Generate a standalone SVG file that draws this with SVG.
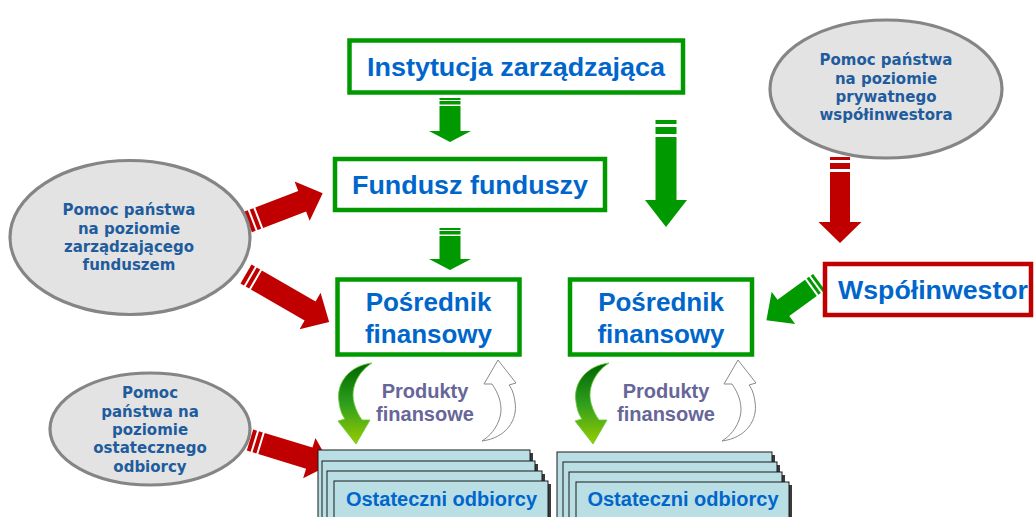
<svg xmlns="http://www.w3.org/2000/svg" width="1035" height="517" viewBox="0 0 1035 517">
<defs>
<style>
.box{fill:#fff;stroke:#009900;stroke-width:4.5}
.rbox{fill:#fff;stroke:#C00000;stroke-width:4.5}
.bt{font-family:"Liberation Sans",Arial,sans-serif;font-weight:bold;fill:#0066CC;text-anchor:middle}
.el{fill:#E3E3E3;stroke:#858585;stroke-width:3.2}
.et{font-family:"DejaVu Sans",Verdana,sans-serif;font-weight:bold;font-size:15px;fill:#1F5C9E;text-anchor:middle}
.pt{font-family:"Liberation Sans",Arial,sans-serif;font-weight:bold;font-size:20px;fill:#666699;text-anchor:middle}
.g{fill:#009900}
.r{fill:#C00000}
.card{fill:#B9DFE5;stroke:#1a1a1a;stroke-width:1}
.sh{fill:#3a3a3a}
.out{fill:#fff;stroke:#8A8A8A;stroke-width:1}
</style>
<linearGradient id="gg" x1="0" y1="0" x2="0" y2="1">
<stop offset="0" stop-color="#006600"/>
<stop offset="0.5" stop-color="#2E9E1E"/>
<stop offset="1" stop-color="#99CC00"/>
</linearGradient>
<path id="curv" d="M372,363 C348,366 336,384 339,402 C340,410 342,415 345,419 L338,421 L356,444 L370,420 L362,420 C355,410 351,398 354,387 C357,376 364,368 372,363 Z"/>
</defs>

<g id="connectors">
<g class="g" transform="translate(450,98) rotate(90)">
<rect x="0" y="-10.5" width="2" height="21"/><rect x="3" y="-10.5" width="3.5" height="21"/>
<path d="M8,-10.5H33V-21L44,0L33,21V10.5H8Z"/>
</g>
<g class="g" transform="translate(450,228) rotate(90)">
<rect x="0" y="-10.5" width="2" height="21"/><rect x="3" y="-10.5" width="3.5" height="21"/>
<path d="M8,-10.5H31V-21L42,0L31,21V10.5H8Z"/>
</g>
<g class="g" transform="translate(666,120) rotate(90)">
<rect x="0" y="-10.5" width="4" height="21"/><rect x="7" y="-10.5" width="7" height="21"/>
<path d="M17,-10.5H80V-21L107,0L80,21V10.5H17Z"/>
</g>
<g class="r" transform="translate(840,157) rotate(90)">
<rect x="0" y="-10" width="3" height="20"/><rect x="6" y="-10" width="6" height="20"/>
<path d="M15,-10H65V-21.5L86,0L65,21.5V10H15Z"/>
</g>
<g class="g" transform="translate(819,282) rotate(144)">
<rect x="0" y="-10" width="3" height="20"/><rect x="5" y="-10" width="3" height="20"/>
<path d="M10,-10H44V-20L65,0L44,20V10H10Z"/>
</g>
<g class="r" transform="translate(248,222) rotate(-21)">
<rect x="0" y="-11" width="4" height="22"/><rect x="6" y="-11" width="4" height="22"/>
<path d="M12,-11H58V-21L80,0L58,21V11H12Z"/>
</g>
<g class="r" transform="translate(246,274) rotate(30)">
<rect x="0" y="-11" width="4" height="22"/><rect x="6" y="-11" width="4" height="22"/>
<path d="M12,-11H74V-21L96,0L74,21V11H12Z"/>
</g>
<g class="r" transform="translate(250,440) rotate(17)">
<rect x="0" y="-11" width="4" height="22"/><rect x="6" y="-11" width="4" height="22"/>
<path d="M12,-11H62V-21L84,0L62,21V11H12Z"/>
</g>
<use href="#curv" fill="url(#gg)" stroke="#66CC33" stroke-width="0.8"/>
<use href="#curv" class="out" transform="rotate(180 427 402)"/>
<use href="#curv" fill="url(#gg)" stroke="#66CC33" stroke-width="0.8" transform="translate(237,0)"/>
<use href="#curv" class="out" transform="translate(240,0) rotate(180 427 402)"/>
</g>

<g id="instytucja">
<rect class="box" x="349.5" y="40.5" width="333.5" height="52"/>
<text class="bt" x="516" y="76" font-size="26" textLength="298" lengthAdjust="spacingAndGlyphs">Instytucja zarządzająca</text>
</g>
<g id="fundusz">
<rect class="box" x="335" y="159" width="270" height="51"/>
<text class="bt" x="470" y="194" font-size="26" textLength="236" lengthAdjust="spacingAndGlyphs">Fundusz funduszy</text>
</g>
<g id="posrednik1">
<rect class="box" x="337.5" y="279.5" width="182" height="75"/>
<text class="bt" x="428.5" y="311" font-size="26">Pośrednik</text>
<text class="bt" x="428.5" y="343" font-size="26">finansowy</text>
</g>
<g id="posrednik2">
<rect class="box" x="570" y="279.5" width="182" height="75"/>
<text class="bt" x="661" y="311" font-size="26">Pośrednik</text>
<text class="bt" x="661" y="343" font-size="26">finansowy</text>
</g>
<g id="wspolinwestor">
<rect class="rbox" x="825" y="264" width="206" height="51"/>
<text class="bt" x="933" y="299" font-size="26" textLength="190" lengthAdjust="spacingAndGlyphs">Współinwestor</text>
</g>

<g id="pomoc-zarzadzajacy">
<ellipse class="el" cx="130" cy="237.5" rx="120" ry="77"/>
<text class="et" x="129" y="215">Pomoc państwa</text>
<text class="et" x="129" y="233.5">na poziomie</text>
<text class="et" x="129" y="252">zarządzającego</text>
<text class="et" x="129" y="270">funduszem</text>
</g>
<g id="pomoc-wspolinwestor">
<ellipse class="el" cx="886" cy="89" rx="116" ry="69"/>
<text class="et" x="886" y="65">Pomoc państwa</text>
<text class="et" x="886" y="83.5">na poziomie</text>
<text class="et" x="886" y="102">prywatnego</text>
<text class="et" x="886" y="120">współinwestora</text>
</g>
<g id="pomoc-odbiorca">
<ellipse class="el" cx="150" cy="429" rx="100" ry="56"/>
<text class="et" x="150" y="398">Pomoc</text>
<text class="et" x="150" y="416.5">państwa na</text>
<text class="et" x="150" y="435">poziomie</text>
<text class="et" x="150" y="453">ostatecznego</text>
<text class="et" x="150" y="471.5">odbiorcy</text>
</g>

<g id="produkty1">
<text class="pt" x="425" y="398">Produkty</text>
<text class="pt" x="425" y="421">finansowe</text>
</g>
<g id="produkty2">
<text class="pt" x="666" y="398">Produkty</text>
<text class="pt" x="666" y="421">finansowe</text>
</g>

<g id="odbiorcy1">
<rect class="sh" x="321" y="453" width="212" height="80"/>
<rect class="card" x="318" y="450" width="212" height="80"/>
<rect class="sh" x="325" y="464" width="213" height="80"/>
<rect class="card" x="322" y="461" width="213" height="80"/>
<rect class="sh" x="330" y="474" width="215" height="80"/>
<rect class="card" x="327" y="471" width="215" height="80"/>
<rect class="sh" x="337" y="484" width="214" height="80"/>
<rect class="card" x="334" y="481" width="214" height="80"/>
<text class="bt" x="441.5" y="506" font-size="20">Ostateczni odbiorcy</text>
</g>
<g id="odbiorcy2">
<rect class="sh" x="560" y="455" width="215" height="80"/>
<rect class="card" x="557" y="452" width="215" height="80"/>
<rect class="sh" x="566" y="465" width="214" height="80"/>
<rect class="card" x="563" y="462" width="214" height="80"/>
<rect class="sh" x="572" y="475" width="213" height="80"/>
<rect class="card" x="569" y="472" width="213" height="80"/>
<rect class="sh" x="579" y="485" width="213" height="80"/>
<rect class="card" x="576" y="482" width="213" height="80"/>
<text class="bt" x="683" y="506" font-size="20">Ostateczni odbiorcy</text>
</g>
</svg>
